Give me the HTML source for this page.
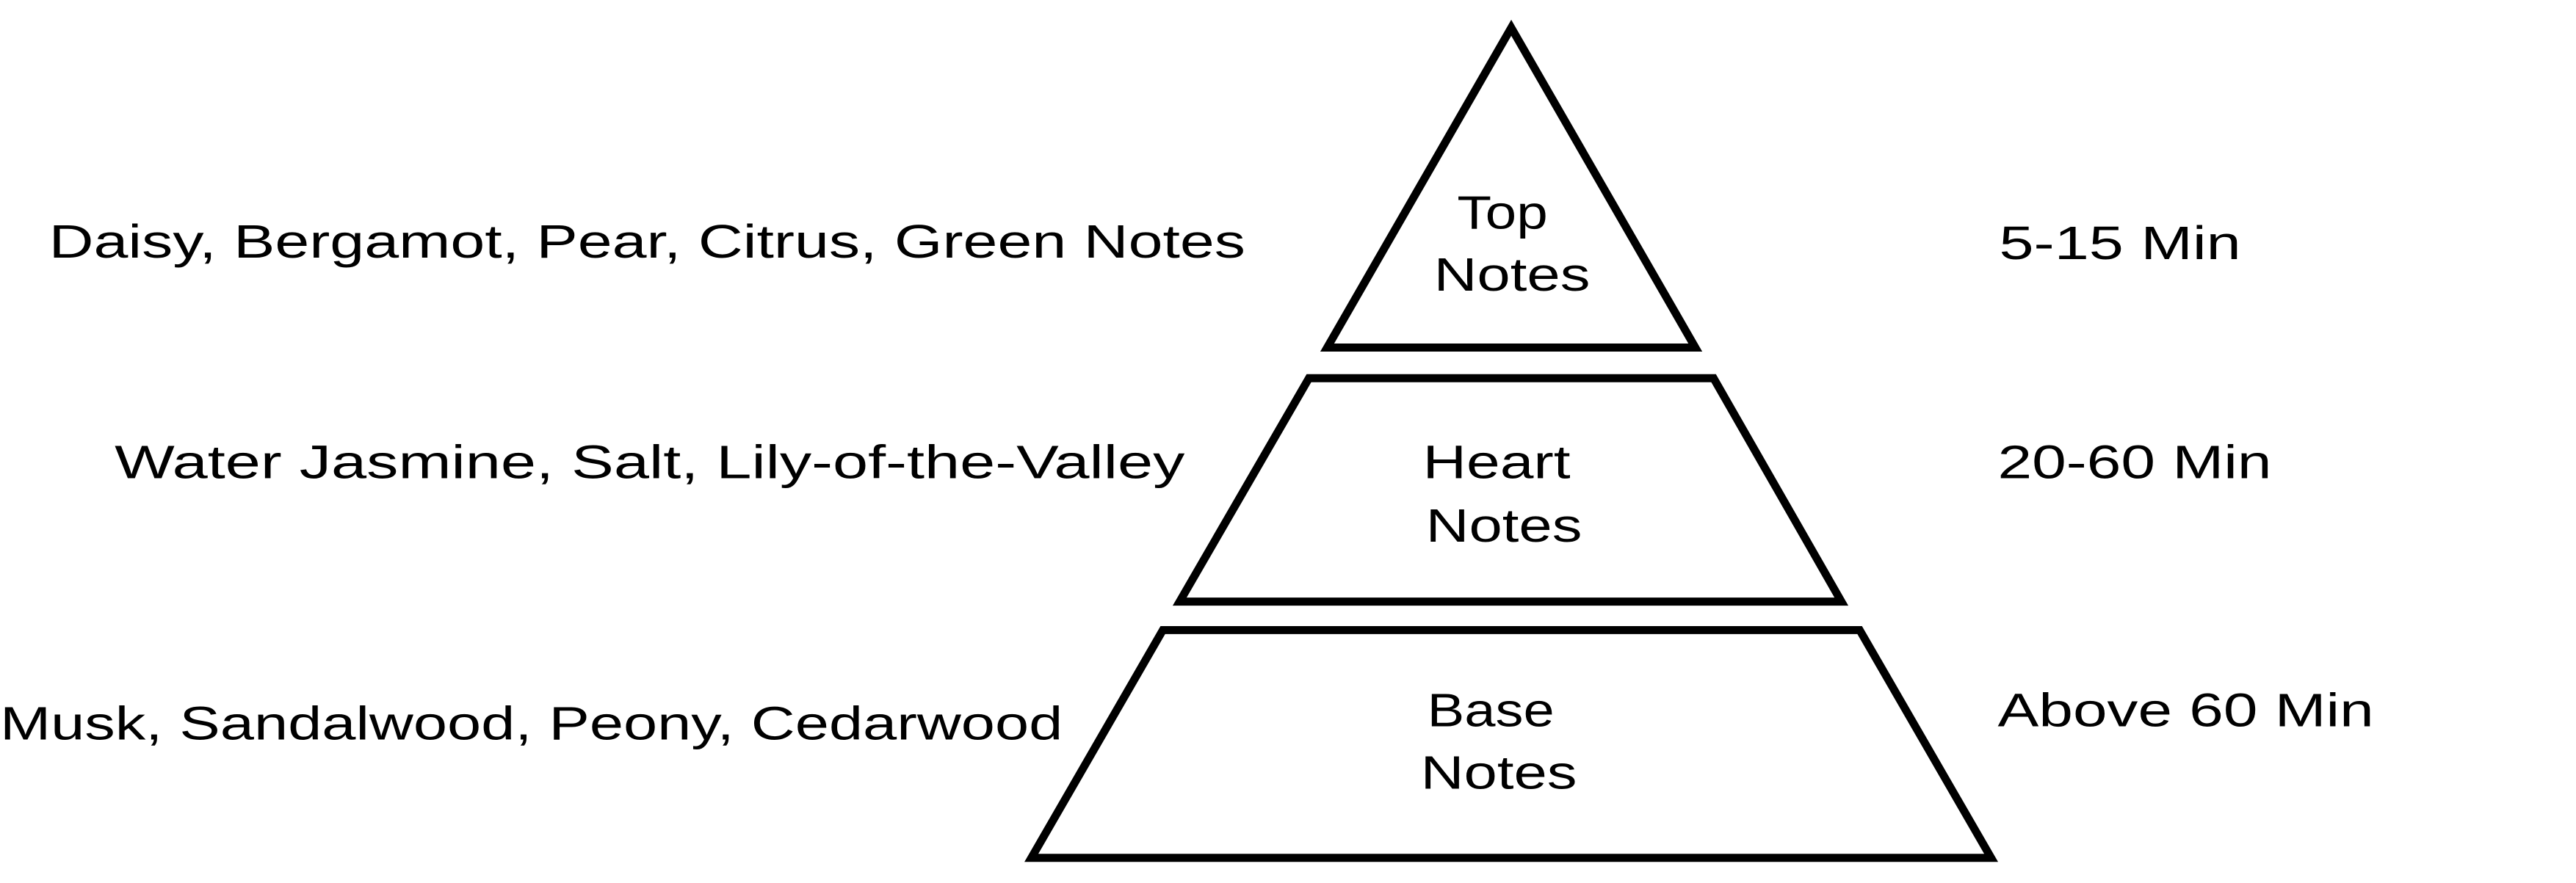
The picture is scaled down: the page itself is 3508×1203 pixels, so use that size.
<!DOCTYPE html>
<html><head><meta charset="utf-8"><style>html,body{margin:0;padding:0;background:#fff}svg{display:block}</style></head>
<body>
<svg width="3508" height="1203" viewBox="0 0 3508 1203" xmlns="http://www.w3.org/2000/svg">
<g transform="scale(0.9947)">
<g fill="none" stroke="#000" stroke-width="11" stroke-linejoin="miter">
<polygon points="2069,38 2321,476 1817,476"/>
<polygon points="1792,518 2346,518 2521,824 1615,824"/>
<polygon points="1592,863 2546,863 2726,1175 1412,1175"/>
</g>
<g font-family="Liberation Sans, sans-serif" font-size="64" fill="#000">
<text x="67" y="353" textLength="1638" lengthAdjust="spacingAndGlyphs">Daisy, Bergamot, Pear, Citrus, Green Notes</text>
<text x="157" y="655" textLength="1465" lengthAdjust="spacingAndGlyphs">Water Jasmine, Salt, Lily-of-the-Valley</text>
<text x="0" y="1013" textLength="1455" lengthAdjust="spacingAndGlyphs">Musk, Sandalwood, Peony, Cedarwood</text>
<text x="2737" y="355" textLength="331" lengthAdjust="spacingAndGlyphs">5-15 Min</text>
<text x="2735" y="655" textLength="375" lengthAdjust="spacingAndGlyphs">20-60 Min</text>
<text x="2735" y="995" textLength="515" lengthAdjust="spacingAndGlyphs">Above 60 Min</text>
<text x="1995" y="313" textLength="124" lengthAdjust="spacingAndGlyphs">Top</text>
<text x="1963" y="398" textLength="214" lengthAdjust="spacingAndGlyphs">Notes</text>
<text x="1948" y="655" textLength="202" lengthAdjust="spacingAndGlyphs">Heart</text>
<text x="1952" y="742" textLength="214" lengthAdjust="spacingAndGlyphs">Notes</text>
<text x="1954" y="995" textLength="174" lengthAdjust="spacingAndGlyphs">Base</text>
<text x="1945" y="1080" textLength="214" lengthAdjust="spacingAndGlyphs">Notes</text>
</g>
</g>
</svg>
</body></html>
